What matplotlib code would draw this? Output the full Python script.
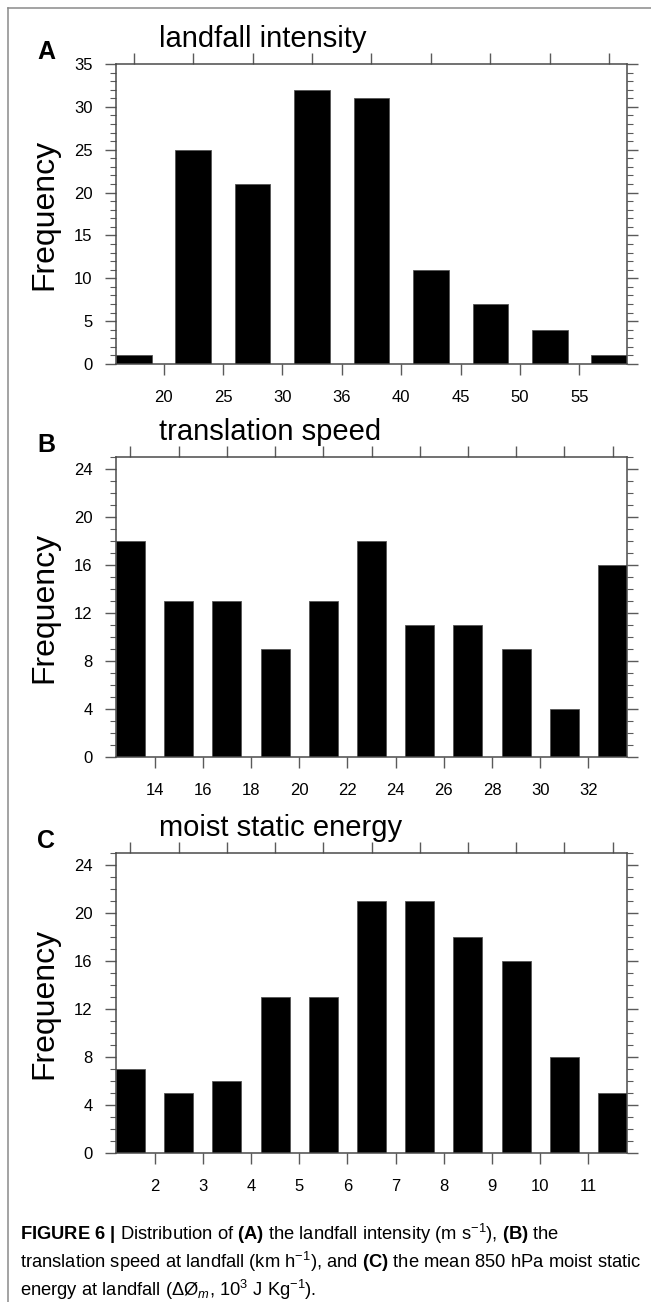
import matplotlib
matplotlib.use("Agg")
import matplotlib.pyplot as plt
from matplotlib.lines import Line2D
from matplotlib.ticker import MultipleLocator

# Histogram counts for each panel
intensity_counts = [1, 25, 21, 32, 31, 11, 7, 4, 1]
intensity_ticks = ["20", "25", "30", "36", "40", "45", "50", "55"]

speed_counts = [18, 13, 13, 9, 13, 18, 11, 11, 9, 4, 16]
speed_ticks = ["14", "16", "18", "20", "22", "24", "26", "28", "30", "32"]

mse_counts = [7, 5, 6, 13, 13, 21, 21, 18, 16, 8, 5]
mse_ticks = ["2", "3", "4", "5", "6", "7", "8", "9", "10", "11"]

FONT = "Liberation Sans"
plt.rcParams["font.family"] = [FONT, "DejaVu Sans"]
plt.rcParams["mathtext.fontset"] = "custom"
plt.rcParams["mathtext.rm"] = FONT
plt.rcParams["mathtext.it"] = FONT + ":italic"
plt.rcParams["mathtext.bf"] = FONT + ":bold"

W, H = 651, 1302
fig = plt.figure(figsize=(W / 100, H / 100), dpi=100)

SPINE = "#4a4a4a"
TICK = "#5a5a5a"

def px_axes(left, top, right, bottom):
    return fig.add_axes([left / W, 1 - bottom / H, (right - left) / W, (bottom - top) / H])

panels = [
    dict(label="A", title="landfall intensity", counts=intensity_counts, ticks=intensity_ticks,
         ymax=35, major=5, top=64, bottom=364),
    dict(label="B", title="translation speed", counts=speed_counts, ticks=speed_ticks,
         ymax=25, major=4, top=457, bottom=757),
    dict(label="C", title="moist static energy", counts=mse_counts, ticks=mse_ticks,
         ymax=25, major=4, top=853, bottom=1153),
]

for p in panels:
    ax = px_axes(116, p["top"], 627, p["bottom"])
    n = len(p["counts"])
    xs = list(range(n))
    ax.bar(xs, p["counts"], width=0.6, color="black", edgecolor="#555555", linewidth=0.6, zorder=2)
    ax.set_xlim(-0.3, n - 1 + 0.3)
    ax.set_ylim(0, p["ymax"])

    ax.set_xticks([i + 0.5 for i in range(n - 1)])
    ax.set_xticklabels(p["ticks"])
    ax.yaxis.set_major_locator(MultipleLocator(p["major"]))
    ax.yaxis.set_minor_locator(MultipleLocator(1))

    ax.tick_params(axis="both", which="major", direction="out", length=8, width=1.0,
                   color=TICK, labelsize=12, labelcolor="black")
    ax.tick_params(axis="y", which="major", right=True, pad=9)
    ax.tick_params(axis="y", which="minor", direction="out", length=4.3, width=0.8,
                   color=TICK, left=True, right=True)
    ax.tick_params(axis="x", which="major", pad=11)
    ax.tick_params(axis="x", which="minor", bottom=False, top=False)

    # unlabeled ticks at bar centres along the top edge
    top_ax = ax.secondary_xaxis("top")
    top_ax.set_xticks(xs)
    top_ax.set_xticklabels([])
    top_ax.tick_params(direction="out", length=8, width=1.0, color=TICK)
    top_ax.spines["top"].set_visible(False)

    for s in ax.spines.values():
        s.set_color(SPINE)
        s.set_linewidth(1.1)

    ax.text(-0.141, 0.5, "Frequency", rotation=90, ha="center", va="center",
            fontsize=23, transform=ax.transAxes)

    fig.text(159 / W, 1 - (p["top"] - 17) / H, p["title"], fontsize=21,
             ha="left", va="baseline")
    fig.text(37 / W, 1 - (p["top"] - 5) / H, p["label"], fontsize=18, fontweight="bold",
             ha="left", va="baseline")

# caption
caption = [
    r"$\mathbf{FIGURE\ 6\ |}$ Distribution of $\mathbf{(A)}$ the landfall intensity (m s$^{-1}$), $\mathbf{(B)}$ the",
    r"translation speed at landfall (km h$^{-1}$), and $\mathbf{(C)}$ the mean 850 hPa moist static",
    r"energy at landfall ($\Delta$Ø$_m$, 10$^3$ J Kg$^{-1}$).",
]
for i, line in enumerate(caption):
    fig.text(20 / W, 1 - (1240 + 28 * i) / H, line, fontsize=13.2, ha="left", va="baseline")

# outer frame lines
fig.add_artist(Line2D([8 / W, 1], [1 - 8 / H, 1 - 8 / H], transform=fig.transFigure,
                      color="#8a8a8a", linewidth=1.1))
fig.add_artist(Line2D([8 / W, 8 / W], [1 - 8 / H, 0], transform=fig.transFigure,
                      color="#8a8a8a", linewidth=1.1))

fig.savefig("out.png", dpi=100, facecolor="white")
